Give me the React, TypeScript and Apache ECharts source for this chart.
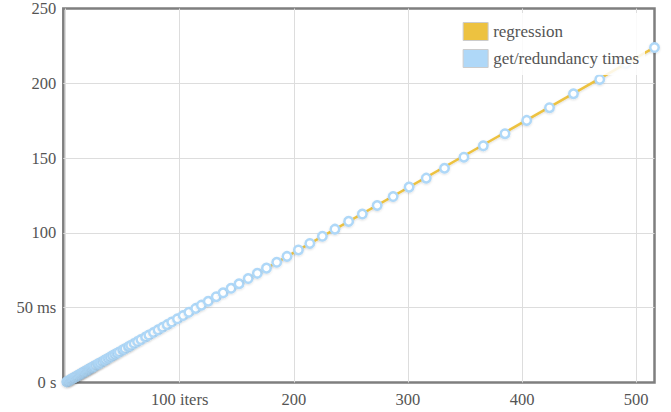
import React, { useEffect, useRef } from "react";
import * as echarts from "echarts";

const SERIES_NAMES = ["regression", "get/redundancy times"];

const ITERS = [
  1, 2, 3, 4, 5, 6, 7, 8, 9, 10, 11, 12, 13, 14, 15, 16, 17, 18, 19, 20,
  21, 22, 23, 24, 25, 26, 28, 29, 30, 32, 34, 35, 37, 39, 41, 43, 45, 47, 50,
  52, 55, 57, 60, 63, 66, 70, 73, 77, 81, 85, 89, 93, 98, 103, 108, 114, 119,
  125, 132, 138, 145, 152, 160, 168, 176, 185, 194, 204, 214, 225, 236, 248,
  260, 273, 287, 301, 316, 332, 349, 366, 385, 404, 424, 445, 468, 491, 516,
];

const TIMES_MS = [
  0.44, 0.87, 1.31, 1.74, 2.18, 2.61, 3.04, 3.48, 3.91, 4.35, 4.78, 5.22, 5.65,
  6.08, 6.52, 6.95, 7.39, 7.82, 8.26, 8.69, 9.12, 9.56, 9.99, 10.43, 10.86,
  11.29, 12.16, 12.6, 13.03, 13.9, 14.77, 15.2, 16.07, 16.94, 17.81, 18.68,
  19.55, 20.42, 21.72, 22.59, 23.89, 24.76, 26.06, 27.36, 28.66, 30.4, 31.7,
  33.44, 35.18, 36.92, 38.66, 40.4, 42.57, 44.74, 46.91, 49.52, 51.69, 54.3,
  57.34, 59.94, 62.98, 66.02, 69.5, 72.98, 76.45, 80.36, 84.27, 88.61, 92.95,
  97.72, 102.5, 107.7, 112.6, 118.3, 124.3, 130.6, 136.6, 143.2, 150.6, 158.2,
  166.3, 175.2, 183.7, 193.0, 202.6, 213.2, 223.9,
];

const REGRESSION_ITERS = [0, 516];
const REGRESSION_MS = [0, 224];

const X_TICK_LABELS: Record<number, string> = {
  100: "100 iters",
  200: "200",
  300: "300",
  400: "400",
  500: "500",
};
const Y_TICK_LABELS: Record<number, string> = {
  0: "0 s",
  50: "50 ms",
  100: "100",
  150: "150",
  200: "200",
  250: "250",
};

const FONT = "Liberation Serif, Times New Roman, serif";
const TEXT_COLOR = "#545454";

export default function App() {
  const ref = useRef<HTMLDivElement>(null);

  useEffect(() => {
    if (!ref.current) return;
    const chart = echarts.init(ref.current, null, { renderer: "svg" });
    chart.setOption({
      animation: false,
      backgroundColor: "#fff",
      textStyle: { fontFamily: FONT },
      grid: {
        left: 63.3,
        right: 16.5,
        top: 7.5,
        bottom: 29.5,
        show: true,
        borderColor: "#7f7f7f",
        borderWidth: 2.5,
        backgroundColor: "transparent",
      },
      legend: {
        orient: "vertical",
        right: 26,
        top: 13,
        itemWidth: 25,
        itemHeight: 18,
        itemGap: 8,
        padding: [9, 6, 7, 4],
        backgroundColor: "rgba(255,255,255,0.85)",
        textStyle: { fontSize: 17, color: TEXT_COLOR, fontFamily: FONT },
        data: [
          {
            name: SERIES_NAMES[0],
            icon: "rect",
            itemStyle: { color: "#edc240", borderColor: "#cccccc", borderWidth: 1 },
          },
          {
            name: SERIES_NAMES[1],
            icon: "rect",
            itemStyle: { color: "#afd8f8", borderColor: "#cccccc", borderWidth: 1 },
          },
        ],
      },
      xAxis: {
        type: "value",
        min: -2,
        max: 516,
        axisLine: { show: false },
        axisTick: { show: false },
        axisLabel: {
          margin: 8,
          fontSize: 16.5,
          color: TEXT_COLOR,
          fontFamily: FONT,
          showMinLabel: false,
          showMaxLabel: false,
          formatter: (v: number) => X_TICK_LABELS[v] ?? "",
        },
        splitLine: {
          show: true,
          showMinLine: false,
          showMaxLine: false,
          lineStyle: { color: "#dddddd", width: 1 },
        },
      },
      yAxis: {
        type: "value",
        min: 0,
        max: 250,
        interval: 50,
        axisLine: { show: false },
        axisTick: { show: false },
        axisLabel: {
          margin: 7,
          fontSize: 16.5,
          color: TEXT_COLOR,
          fontFamily: FONT,
          formatter: (v: number) => Y_TICK_LABELS[v] ?? "",
        },
        splitLine: {
          show: true,
          showMinLine: false,
          showMaxLine: false,
          lineStyle: { color: "#dddddd", width: 1 },
        },
      },
      series: [
        {
          name: SERIES_NAMES[0],
          type: "line",
          data: REGRESSION_ITERS.map((x, i) => [x, REGRESSION_MS[i]]),
          showSymbol: false,
          symbol: "none",
          z: 2,
          lineStyle: {
            color: "#edc240",
            width: 2.5,
            shadowColor: "rgba(0,0,0,0.15)",
            shadowBlur: 2,
            shadowOffsetY: 1,
          },
          itemStyle: { color: "#edc240" },
        },
        {
          name: SERIES_NAMES[1],
          type: "scatter",
          data: ITERS.map((x, i) => [x, TIMES_MS[i]]),
          symbol: "circle",
          symbolSize: 8.5,
          z: 3,
          itemStyle: {
            color: "#ffffff",
            borderColor: "#afd8f8",
            borderWidth: 2.5,
            opacity: 1,
            shadowColor: "rgba(0,0,0,0.12)",
            shadowBlur: 2,
            shadowOffsetY: 1,
          },
        },
      ],
    });
    return () => chart.dispose();
  }, []);

  return (
    <div
      ref={ref}
      style={{ position: "fixed", left: 0, top: 0, width: 671, height: 412 }}
    />
  );
}
